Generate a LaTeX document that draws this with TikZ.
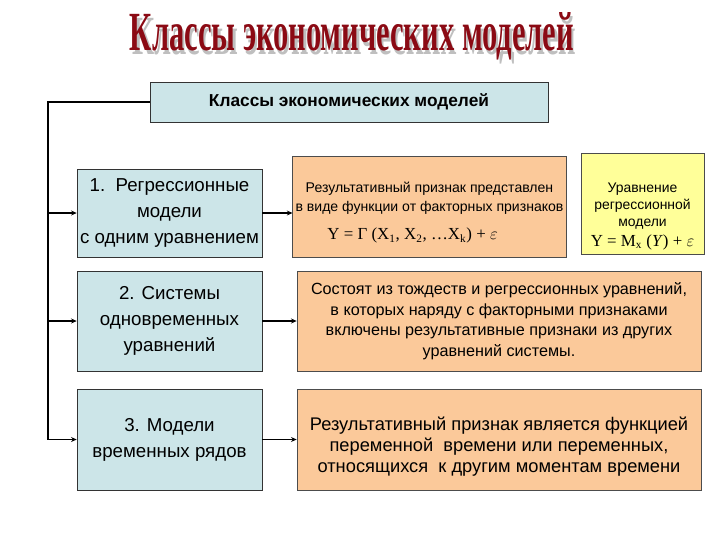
\documentclass[tikz,border=0pt]{standalone}
\usepackage{fontspec}
\setmainfont{Liberation Sans}
\newfontfamily\titlefont{Liberation Serif}
\usepackage{amsmath}
\usetikzlibrary{arrows.meta}
\definecolor{boxblue}{HTML}{CCE5E8}
\definecolor{boxorange}{HTML}{FBC99A}
\definecolor{boxyellow}{HTML}{FFFF99}
\definecolor{titlered}{HTML}{8B0A14}

\begin{document}
\begin{tikzpicture}[x=0.025cm,y=-0.025cm,
    model/.style={draw=black!80,fill=boxblue,align=center,inner sep=2pt,
      font=\fontsize{13.3}{18.5}\selectfont},
    desc/.style={draw=black!70,fill=boxorange,align=center,inner sep=2pt},
    link/.style={line width=0.9pt,-{Stealth[length=4pt,width=3.5pt]}}]
    \useasboundingbox[fill=white] (0,0) rectangle (720,540);
    \node[font=\titlefont\bfseries,inner sep=0pt] (title) at (352,38)
        {\resizebox*{11.1cm}{1.3cm}{\makebox[0pt][l]{\color{gray!50}\raisebox{-0.8pt}{\hspace*{0.8pt}Классы экономических моделей}}\color{titlered}Классы экономических моделей}};
    \node[draw=black!80,fill=boxblue,minimum width=9.95cm,minimum height=1cm,
        font=\fontsize{12.3}{14}\selectfont\bfseries] (classes) at (349,102)
        {Классы экономических моделей};
    \node[model,minimum width=4.625cm,minimum height=2.2cm] (m1) at (169.5,213)
        {1.\ \ Регрессионные\\модели\\с одним уравнением};
    \node[model,minimum width=4.625cm,minimum height=2.5cm] (m2) at (169.5,321)
        {2. Системы\\одновременных\\уравнений};
    \node[model,minimum width=4.625cm,minimum height=2.525cm] (m3) at (169.5,439.5)
        {3. Модели\\временных рядов};
    \node[desc,minimum width=6.825cm,minimum height=2.525cm,
        font=\fontsize{10}{13.5}\selectfont] (d1) at (429.5,206.5)
        {\rule{0pt}{16pt}Результативный признак представлен\\в виде функции от факторных признаков\\[7pt]
        {\titlefont\fontsize{12}{14}\selectfont Y = Γ (X\textsubscript{1}, X\textsubscript{2}, \dots X\textsubscript{k}) + $\varepsilon$}\hspace*{2.4em}};
    \node[draw=black!70,fill=boxyellow,align=center,minimum width=3.075cm,
        minimum height=2.45cm,font=\fontsize{9.9}{12.3}\selectfont] (eq) at (642.5,204)
        {\rule{0pt}{24pt}Уравнение\\регрессионной\\модели\\[1.5pt]
        {\titlefont\fontsize{12}{14}\selectfont Y = M\textsubscript{x} (\textit{Y}) + $\varepsilon$}};
    \node[desc,minimum width=10.1cm,minimum height=2.5cm,
        font=\fontsize{11.5}{14.6}\selectfont] (d2) at (499,321)
        {Состоят из тождеств и регрессионных уравнений,\\в которых наряду с факторными признаками\\
        включены результативные признаки из других\\уравнений системы.};
    \node[desc,minimum width=10.1cm,minimum height=2.525cm,
        font=\fontsize{13}{14.8}\selectfont] (d3) at (499,439.5)
        {\rule{0pt}{20pt}Результативный признак является функцией\\переменной\ \ времени или переменных,\\
        относящихся\ \ к другим моментам времени};
    \coordinate (spine) at (48,102);
    \draw[line width=0.9pt] (classes.west) -- (spine) -- (spine |- m3.west);
    \draw[link] (spine |- m1.west) -- (m1.west);
    \draw[link] (spine |- m2.west) -- (m2.west);
    \draw[link] (spine |- m3.west) -- (m3.west);
    \draw[link] (m1.east) -- (m1.east -| d1.west);
    \draw[link] (m2.east) -- (m2.east -| d2.west);
    \draw[link] (m3.east) -- (m3.east -| d3.west);
\end{tikzpicture}
\end{document}
